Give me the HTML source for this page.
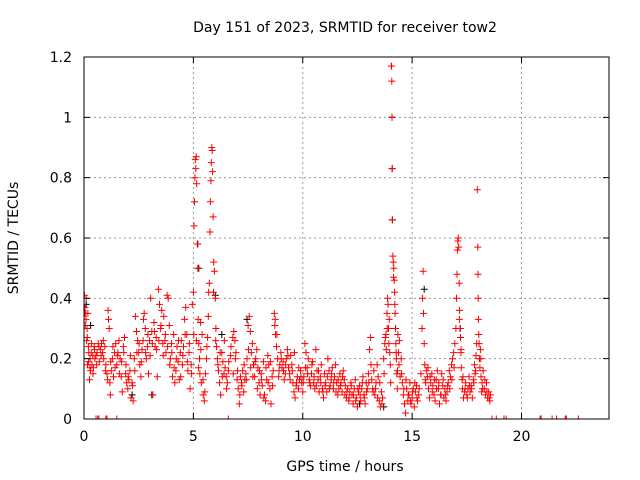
<!DOCTYPE html>
<html><head><meta charset="utf-8"><style>
html,body{margin:0;padding:0;background:#fff;}
svg{display:block;font-family:"DejaVu Sans","Liberation Sans",sans-serif;}
</style></head><body>
<svg id="chart" width="640" height="480" viewBox="0 0 640 480" xmlns="http://www.w3.org/2000/svg">
<rect width="640" height="480" fill="#fff"/>
<text x="345" y="32" font-size="14" text-anchor="middle">Day 151 of 2023, SRMTID for receiver tow2</text>
<text transform="translate(18,238) rotate(-90)" font-size="14" text-anchor="middle">SRMTID / TECUs</text>
<text x="345" y="471" font-size="14" text-anchor="middle">GPS time / hours</text>
<defs><clipPath id="clip"><rect x="84" y="57" width="525" height="362"/></clipPath></defs>
<g id="grid"></g>
<g id="black" clip-path="url(#clip)"></g>
<g id="red" clip-path="url(#clip)"></g>
<rect x="84" y="57" width="525" height="362" fill="none" stroke="#000" stroke-width="1"/>
<g id="ticks"></g>
</svg>
<script>
const xTicks=[0,5,10,15,20];
const yTicks=[0,0.2,0.4,0.6,0.8,1,1.2];
const yTickLabels=["0","0.2","0.4","0.6","0.8","1","1.2"];
const redT=[
0.02,0.04,0.06,0.08,0.10,0.12,0.14,0.16,0.18,0.20,
0.22,0.25,0.28,0.30,0.33,0.36,0.40,0.43,0.46,0.50,
0.55,0.60,0.65,0.70,0.75,0.80,0.85,0.90,0.95,1.00,
1.05,1.10,1.12,1.15,1.18,1.20,1.25,1.30,1.35,1.40,
1.45,1.50,1.55,1.60,1.65,1.70,1.75,1.80,1.85,1.90,
1.95,2.00,2.05,2.10,2.15,2.20,2.25,2.30,2.35,2.40,
2.45,2.50,2.55,2.60,2.65,2.70,2.75,2.80,2.85,2.90,
2.95,3.00,3.05,3.10,3.15,3.20,3.25,3.30,3.35,3.40,
3.45,3.50,3.55,3.60,3.65,3.70,3.75,3.80,3.85,3.90,
3.95,4.00,4.05,4.10,4.15,4.20,4.25,4.30,4.35,4.40,
4.45,4.50,4.55,4.60,4.65,4.70,4.75,4.80,4.85,4.90,
4.95,5.00,5.03,5.05,5.07,5.09,5.11,5.13,5.15,5.18,
5.20,5.22,5.25,5.28,5.30,5.33,5.36,5.40,5.45,5.50,
5.55,5.60,5.65,5.70,5.73,5.76,5.78,5.80,5.82,5.84,
5.86,5.88,5.90,5.93,5.96,6.00,6.03,6.06,6.10,6.15,
6.20,6.25,6.30,6.35,6.40,6.45,6.50,6.55,6.60,6.70,
6.80,6.85,6.90,6.95,7.00,7.05,7.10,7.15,7.20,7.25,
7.30,7.35,7.40,7.45,7.50,7.55,7.60,7.65,7.70,7.75,
7.80,7.85,7.90,7.95,8.00,8.05,8.10,8.15,8.20,8.25,
8.30,8.35,8.40,8.45,8.50,8.55,8.60,8.65,8.70,8.72,
8.74,8.76,8.80,8.85,8.90,8.95,9.00,9.05,9.10,9.15,
9.20,9.25,9.30,9.35,9.40,9.45,9.50,9.55,9.60,9.65,
9.70,9.75,9.80,9.85,9.90,9.95,10.00,10.05,10.10,10.15,
10.20,10.25,10.30,10.35,10.40,10.45,10.50,10.55,10.60,10.65,
10.70,10.75,10.80,10.85,10.90,10.95,11.00,11.05,11.10,11.15,
11.20,11.25,11.30,11.35,11.40,11.45,11.50,11.55,11.60,11.65,
11.70,11.75,11.80,11.85,11.90,11.95,12.00,12.05,12.10,12.15,
12.20,12.25,12.30,12.35,12.40,12.45,12.50,12.55,12.60,12.65,
12.70,12.75,12.80,12.85,12.90,12.95,13.00,13.05,13.10,13.15,
13.20,13.25,13.30,13.35,13.40,13.45,13.50,13.55,13.60,13.65,
13.70,13.75,13.80,13.82,13.85,13.88,13.90,13.92,13.95,13.98,
14.00,14.02,14.05,14.06,14.07,14.08,14.09,14.10,14.12,14.14,
14.16,14.18,14.20,14.22,14.24,14.26,14.28,14.30,14.32,14.35,
14.38,14.40,14.45,14.50,14.55,14.60,14.65,14.70,14.75,14.80,
14.85,14.90,14.95,15.00,15.05,15.10,15.15,15.20,15.25,15.30,
15.40,15.45,15.48,15.50,15.52,15.55,15.58,15.60,15.65,15.70,
15.75,15.80,15.85,15.90,15.95,16.00,16.05,16.10,16.15,16.20,
16.25,16.30,16.35,16.40,16.45,16.50,16.55,16.60,16.65,16.70,
16.75,16.80,16.85,16.90,16.95,17.00,17.03,17.05,17.07,17.09,
17.11,17.13,17.15,17.17,17.19,17.21,17.23,17.25,17.28,17.30,
17.35,17.40,17.45,17.50,17.55,17.60,17.65,17.70,17.75,17.80,
17.85,17.90,17.92,17.95,17.98,18.00,18.01,18.02,18.03,18.05,
18.08,18.10,18.12,18.15,18.18,18.20,18.25,18.30,18.35,18.40,
18.45,18.50,18.55,18.58,
0.55,0.62,0.68,1.00,1.05,1.50,6.60,18.65,18.85,19.20,
19.30,20.85,20.90,21.40,21.60,22.00,22.05,22.60
];
const redV=[
.41,.37,.31,.35,.40,.26,.30,.18,.35,.24,
.22,.13,.20,.16,.22,.18,.21,.17,.24,.20,
.21,.22,.25,.19,.23,.25,.22,.20,.24,.18,
.15,.36,.33,.30,.12,.08,.16,.20,.14,.22,
.25,.18,.22,.26,.20,.14,.09,.24,.27,.15,
.12,.10,.13,.16,.07,.12,.06,.20,.34,.29,
.26,.22,.18,.14,.23,.26,.35,.30,.20,.24,
.15,.26,.40,.29,.08,.32,.24,.27,.14,.43,
.38,.30,.36,.25,.34,.26,.22,.41,.40,.31,
.20,.25,.14,.28,.12,.16,.24,.19,.13,.22,
.26,.18,.24,.33,.37,.28,.16,.22,.10,.18,
.38,.42,.64,.72,.80,.86,.83,.87,.78,.58,
.50,.33,.25,.20,.15,.32,.12,.28,.08,.06,
.15,.20,.27,.42,.45,.62,.72,.79,.85,.90,
.89,.82,.67,.52,.49,.40,.30,.24,.20,.16,
.12,.08,.22,.19,.15,.17,.14,.12,.16,.21,
.27,.29,.26,.22,.13,.10,.05,.14,.12,.16,
.09,.13,.15,.20,.31,.34,.29,.22,.25,.18,
.14,.20,.23,.17,.12,.08,.15,.11,.19,.08,
.06,.13,.21,.18,.10,.05,.14,.16,.35,.31,
.33,.28,.24,.20,.14,.18,.22,.17,.19,.13,
.15,.20,.23,.17,.15,.21,.18,.12,.09,.07,
.11,.14,.10,.13,.16,.12,.09,.14,.25,.22,
.17,.20,.13,.11,.15,.19,.12,.10,.23,.16,
.13,.09,.14,.18,.10,.07,.15,.12,.09,.20,
.16,.11,.13,.17,.10,.14,.18,.12,.08,.10,
.15,.12,.09,.16,.13,.11,.07,.10,.06,.09,
.12,.08,.05,.10,.13,.07,.04,.09,.11,.06,
.10,.14,.08,.05,.12,.10,.15,.23,.27,.13,
.10,.16,.08,.12,.18,.14,.06,.04,.09,.07,
.20,.25,.28,.23,.35,.40,.38,.30,.33,.22,
.18,.12,1.17,1.17,1.12,1.00,.83,.66,.54,.52,
.50,.46,.42,.35,.30,.25,.20,.15,.10,.28,
.22,.18,.14,.20,.12,.08,.05,.02,.10,.06,
.08,.12,.05,.07,.10,.04,.09,.11,.06,.08,
.15,.30,.40,.49,.35,.25,.18,.13,.16,.14,
.10,.07,.12,.15,.11,.08,.06,.13,.16,.10,
.05,.08,.15,.11,.07,.10,.06,.09,.12,.16,
.14,.18,.20,.22,.25,.30,.40,.48,.56,.59,
.60,.57,.45,.36,.30,.27,.22,.17,.13,.10,
.07,.09,.12,.08,.10,.14,.09,.11,.07,.13,
.18,.16,.21,.25,.76,.57,.48,.40,.33,.28,
.20,.17,.23,.14,.09,.12,.16,.10,.08,.12,
.07,.09,.06,.08,
0,0,0,0,0,0,0,0,0,0,
0,0,0,0,0,0,0,0
];
const redT2=[
0.03,0.09,0.15,0.21,0.27,0.34,0.41,0.48,0.58,0.68,
0.78,0.88,0.98,1.08,1.22,1.32,1.42,1.52,1.62,1.72,
1.82,1.92,2.02,2.12,2.22,2.32,2.42,2.52,2.62,2.72,
2.82,2.92,3.02,3.12,3.22,3.32,3.42,3.52,3.62,3.72,
3.82,3.92,4.02,4.12,4.22,4.32,4.42,4.52,4.62,4.72,
4.82,4.92,5.02,5.14,5.24,5.34,5.44,5.52,5.62,5.68,
5.92,6.02,6.12,6.22,6.32,6.42,6.52,6.62,6.72,6.82,
6.92,7.02,7.12,7.22,7.32,7.42,7.52,7.62,7.72,7.82,
7.92,8.02,8.12,8.22,8.32,8.42,8.52,8.62,8.82,8.92,
9.02,9.12,9.22,9.32,9.42,9.52,9.62,9.72,9.82,9.92,
10.02,10.12,10.22,10.32,10.42,10.52,10.62,10.72,10.82,10.92,
11.02,11.12,11.22,11.32,11.42,11.52,11.62,11.72,11.82,11.92,
12.02,12.12,12.22,12.32,12.42,12.52,12.62,12.72,12.82,12.92,
13.02,13.12,13.22,13.32,13.42,13.52,13.62,13.72,13.78,13.86,
13.94,14.15,14.21,14.27,14.33,14.42,14.52,14.62,14.72,14.82,
14.92,15.02,15.12,15.22,15.32,15.62,15.72,15.82,15.92,16.02,
16.12,16.22,16.32,16.42,16.52,16.62,16.72,16.82,16.92,17.16,
17.24,17.32,17.42,17.52,17.62,17.72,17.82,17.88,18.06,18.14,
18.22,18.32,18.42,18.52
];
const redV2=[
.35,.33,.27,.19,.17,.25,.15,.23,.18,.24,
.21,.26,.16,.13,.19,.24,.17,.21,.15,.19,
.22,.18,.14,.21,.11,.16,.22,.25,.19,.33,
.22,.28,.21,.25,.29,.23,.26,.31,.21,.28,
.24,.18,.22,.17,.20,.26,.14,.21,.28,.19,
.25,.15,.28,.26,.17,.23,.13,.09,.24,.34,
.42,.26,.18,.22,.14,.26,.10,.19,.24,.15,
.20,.16,.08,.11,.18,.13,.23,.17,.14,.19,
.10,.16,.13,.07,.17,.12,.19,.11,.28,.16,
.20,.16,.18,.21,.13,.16,.22,.12,.17,.14,
.12,.17,.15,.12,.18,.14,.11,.16,.12,.09,
.11,.14,.10,.15,.12,.09,.13,.11,.14,.08,
.09,.07,.11,.08,.06,.10,.08,.12,.07,.09,
.12,.18,.09,.10,.07,.12,.05,.15,.27,.30,
.25,.47,.38,.22,.16,.26,.15,.10,.13,.08,
.06,.09,.12,.07,.10,.12,.17,.14,.09,.13,
.10,.12,.08,.13,.08,.11,.10,.13,.17,.33,
.23,.14,.10,.07,.11,.10,.12,.15,.25,.20,
.10,.13,.09,.07
];
const blackT=[0.10,0.30,2.20,3.10,5.20,5.25,6.00,6.30,7.45,12.60,13.70,14.08,14.09,14.10,15.55,17.20];
const blackV=[0.38,0.31,0.08,0.08,0.58,0.50,0.41,0.28,0.33,0.05,0.04,1.00,0.83,0.66,0.43,0.30];

const X0=84,X1=609,Y0=419,Y1=57,XMIN=0,XMAX=24,YMIN=0,YMAX=1.2;
function sx(t){return X0+(t-XMIN)/(XMAX-XMIN)*(X1-X0);}
function sy(v){return Y0-(v-YMIN)/(YMAX-YMIN)*(Y0-Y1);}
const NS="http://www.w3.org/2000/svg";
const grid=document.getElementById('grid'),ticks=document.getElementById('ticks');
function mk(tag,attrs,parent){const e=document.createElementNS(NS,tag);for(const k in attrs)e.setAttribute(k,attrs[k]);parent.appendChild(e);return e;}
xTicks.forEach(function(t){
  const x=sx(t);
  if(t>XMIN){
    const g=mk('line',{x1:x,y1:Y0,x2:x,y2:Y1,stroke:'#999','stroke-dasharray':'2,3'},grid);
    
    
  }
  const a=mk('path',{d:'M'+x+','+Y0+'v-6M'+x+','+Y1+'v6',stroke:'#000'},ticks);
  
  
  const l=mk('text',{x:x,y:Y0+22,'font-size':14,'text-anchor':'middle'},ticks);
  l.textContent=String(t);
  
  
});
yTicks.forEach(function(v,i){
  const y=sy(v);
  if(v>YMIN&&v<YMAX){
    const g=mk('line',{x1:X0,y1:y,x2:X1,y2:y,stroke:'#999','stroke-dasharray':'2,3'},grid);
    
    
  }
  const a=mk('path',{d:'M'+X0+','+y+'h6M'+X1+','+y+'h-6',stroke:'#000'},ticks);
  
  
  const l=mk('text',{x:X0-12,y:y+5,'font-size':14,'text-anchor':'end'},ticks);
  l.textContent=yTickLabels[i];
  
  
});
function plot(T,V,color,gid,name){
  const g=document.getElementById(gid);
  let d='';
  for(let i=0;i<T.length;i++){
    const x=sx(T[i]),y=sy(V[i]);
    d+='M'+(x-3.5).toFixed(1)+','+y.toFixed(1)+'h7M'+x.toFixed(1)+','+(y-3.5).toFixed(1)+'v7';
  }
  const p=mk('path',{d:d,stroke:color,'stroke-width':1,fill:'none'},g);
  
  
}
plot(blackT,blackV,'#000','black','black-points');
plot(redT,redV,'#f00','red','red-points');
plot(redT2,redV2,'#f00','red','red-points-2');
</script>
</body></html>
